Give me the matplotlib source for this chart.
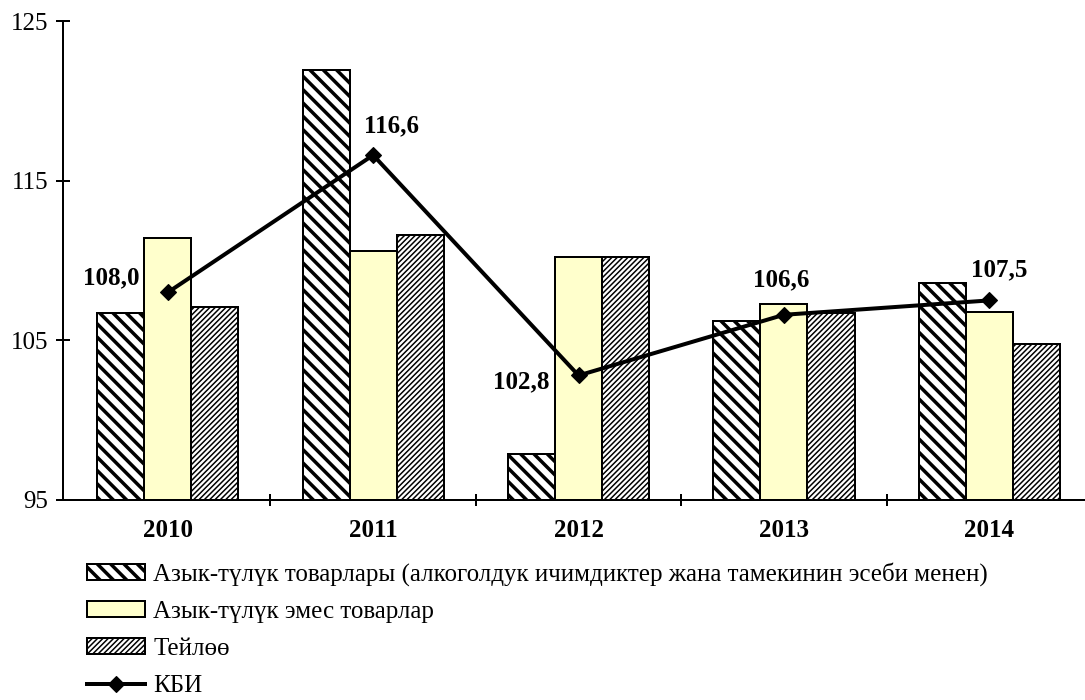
import matplotlib
matplotlib.use("Agg")
import numpy as np
import matplotlib.pyplot as plt

# data
years = ["2010", "2011", "2012", "2013", "2014"]
food = [106.7, 121.9, 97.9, 106.2, 108.6]
nonfood = [111.4, 110.6, 110.2, 107.3, 106.8]
services = [107.1, 111.6, 110.2, 106.7, 104.8]
kbi = [108.0, 116.6, 102.8, 106.6, 107.5]
kbi_labels = ["108,0", "116,6", "102,8", "106,6", "107,5"]
label_names = ["Азык-түлүк товарлары (алкоголдук ичимдиктер жана тамекинин эсеби менен)",
               "Азык-түлүк эмес товарлар",
               "Тейлөө",
               "КБИ"]

DPI = 80
def pt(px):
    # pixels -> points at this dpi
    return px * 72.0 / DPI

FOOD_HLW = pt(3.5)
SERV_HLW = pt(1.5)

def set_hlw(p, lw):
    if hasattr(p, 'set_hatch_linewidth'):
        p.set_hatch_linewidth(lw)

plt.rcParams['font.family'] = ['Liberation Serif', 'DejaVu Serif']

fig = plt.figure(figsize=(1085 / DPI, 700 / DPI), dpi=DPI)
ax = fig.add_axes([63 / 1085, 1 - 500 / 700, 1027 / 1085, 479 / 700])

x = np.arange(len(years))
w = 0.229
edge_lw = pt(2)

with plt.rc_context({'hatch.linewidth': FOOD_HLW, 'hatch.color': 'black'}):
    b1 = ax.bar(x - w, np.array(food) - 95, w, bottom=95, color='white',
                edgecolor='black', linewidth=edge_lw, hatch='\\\\', zorder=2)
b2 = ax.bar(x, np.array(nonfood) - 95, w, bottom=95, color='#FFFFCC',
            edgecolor='black', linewidth=edge_lw, zorder=2)
with plt.rc_context({'hatch.linewidth': SERV_HLW, 'hatch.color': '#444444'}):
    b3 = ax.bar(x + w, np.array(services) - 95, w, bottom=95, color='white',
                edgecolor='black', linewidth=edge_lw, hatch='/////', zorder=2)
for b in b1:
    set_hlw(b, FOOD_HLW)
for b in b3:
    b.set_edgecolor('black')
    set_hlw(b, SERV_HLW)

ln, = ax.plot(x, kbi, color='black', lw=pt(4), marker='D', ms=pt(11),
              zorder=4)

offsets = [(-57, 15), (18, 29), (-57, -6), (-3, 35), (10, 31)]
for xi, v, s, off in zip(x, kbi, kbi_labels, offsets):
    ax.annotate(s, (xi, v), xytext=off, textcoords='offset pixels',
                ha='center', va='center', fontsize=pt(25), fontweight='bold')

ax.set_ylim(95, 125)
ax.set_yticks([95, 105, 115, 125])
ax.set_xlim(-0.51, 4.49)
ax.set_xticks(x)
ax.set_xticklabels(years, fontweight='bold', fontsize=pt(25))
ax.set_xticks(x[:-1] + 0.5, minor=True)
ax.tick_params(axis='x', which='major', length=0, pad=pt(19))
ax.tick_params(axis='x', which='minor', length=pt(12), width=pt(2),
               direction='inout')
ax.tick_params(axis='y', length=pt(14), width=pt(2), direction='inout',
               labelsize=pt(25), pad=pt(8))
for s in ['top', 'right']:
    ax.spines[s].set_visible(False)
for s in ['left', 'bottom']:
    ax.spines[s].set_linewidth(pt(2))

fs = 25
with plt.rc_context({'hatch.linewidth': FOOD_HLW}):
    leg = fig.legend([b1, b2, b3, ln], label_names, loc='upper left',
                     bbox_to_anchor=(87 / 1085, 1 - 562 / 700), frameon=False,
                     fontsize=pt(fs), handlelength=58 / fs, handleheight=0.6,
                     handletextpad=8 / fs, labelspacing=0.6, borderpad=0,
                     borderaxespad=0)
hs = leg.legend_handles
set_hlw(hs[0], FOOD_HLW)
set_hlw(hs[2], SERV_HLW)
hs[2].set_edgecolor('black')

fig.savefig("out.png", dpi=DPI)
